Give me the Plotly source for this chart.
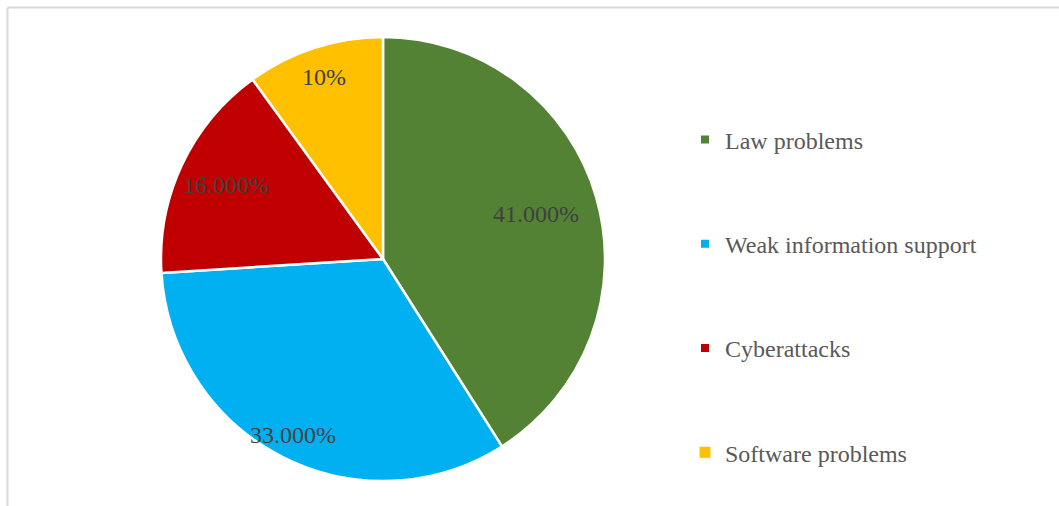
import math
import plotly.graph_objects as go

categories = ["Law problems", "Weak information support", "Cyberattacks", "Software problems"]
values = [41, 33, 16, 10]
label_texts = ["41.000%", "33.000%", "16.000%", "10%"]
colors = ["#548235", "#00B0F0", "#C00000", "#FFC000"]
label_radius = [0.72, 0.89, 0.78, 0.86]  # style: where each label sits along its slice radius
legend_marker_sizes = [8, 8, 8, 11]      # style

W, H = 1059, 506
cx, cy, R = 383, 259, 222

fig = go.Figure()
fig.add_trace(go.Pie(
    labels=categories,
    values=values,
    sort=False,
    direction="clockwise",
    rotation=0,
    marker=dict(colors=colors, line=dict(color="white", width=2.5)),
    textinfo="none",
    hoverinfo="label+percent",
    showlegend=False,
    domain=dict(x=[(cx - R) / W, (cx + R) / W], y=[(H - cy - R) / H, (H - cy + R) / H]),
))

# legend entries (one per category) so that the entries can be spaced apart like the original
for name, col, ms in zip(categories, colors, legend_marker_sizes):
    fig.add_trace(go.Scatter(
        x=[None], y=[None], mode="markers", name=name, legendgroup=name,
        marker=dict(symbol="square", size=ms, color=col),
        hoverinfo="skip",
    ))

total = sum(values)
cum = 0
annotations = []
for v, txt, f in zip(values, label_texts, label_radius):
    mid = (cum + v / 2) / total * 2 * math.pi
    cum += v
    px = cx + R * f * math.sin(mid)
    py = cy - R * f * math.cos(mid)
    annotations.append(dict(
        x=px / W, y=1 - py / H, xref="paper", yref="paper",
        text=txt, showarrow=False, xanchor="center", yanchor="middle",
        font=dict(family="Liberation Serif", size=24, color="#404040"),
    ))

fig.update_layout(
    width=W, height=H,
    margin=dict(l=0, r=0, t=0, b=0),
    paper_bgcolor="white",
    plot_bgcolor="rgba(0,0,0,0)",
    font=dict(family="Liberation Serif", size=24, color="#595959"),
    xaxis=dict(visible=False),
    yaxis=dict(visible=False),
    legend=dict(
        x=685 / W, xanchor="left",
        y=1 - 296 / H, yanchor="middle",
        traceorder="grouped",
        tracegroupgap=70,
        itemsizing="trace",
        font=dict(family="Liberation Serif", size=24, color="#595959"),
        bgcolor="rgba(0,0,0,0)",
    ),
    annotations=annotations,
    shapes=[
        dict(type="line", xref="paper", yref="paper", x0=7.5 / W, x1=1, y0=1 - 7.5 / H, y1=1 - 7.5 / H,
             line=dict(color="#D9D9D9", width=2)),
        dict(type="line", xref="paper", yref="paper", x0=7.5 / W, x1=7.5 / W, y0=0, y1=1 - 7.5 / H,
             line=dict(color="#D9D9D9", width=2)),
    ],
)

fig.write_html("out.html")
